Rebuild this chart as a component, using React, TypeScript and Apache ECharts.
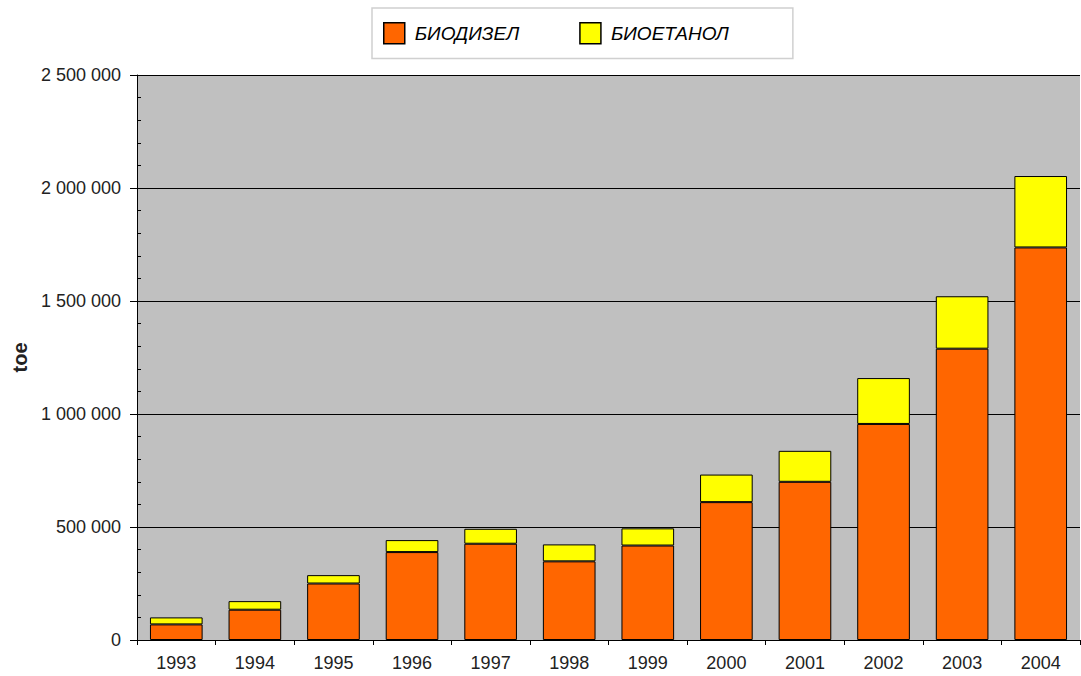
import React, { useEffect, useRef } from "react";
import * as echarts from "echarts";

const years = ["1993", "1994", "1995", "1996", "1997", "1998", "1999", "2000", "2001", "2002", "2003", "2004"];
const biodiesel = [69000, 134000, 250000, 389000, 426000, 348000, 418000, 610000, 700000, 956000, 1289000, 1737000];
const bioethanol = [31000, 38000, 37000, 53000, 66000, 75000, 76000, 122000, 137000, 203000, 232000, 316000];
const seriesNames = ["БИОДИЗЕЛ", "БИОЕТАНОЛ"];
const yAxisName = "toe";

const fmt = (v: number) => String(v).replace(/\B(?=(\d{3})+(?!\d))/g, " ");

export default function App() {
  const ref = useRef<HTMLDivElement>(null);
  useEffect(() => {
    document.body.style.margin = "0";
    const chart = echarts.init(ref.current!, null, { renderer: "svg" });
    const font = "Liberation Sans, Arial, sans-serif";
    chart.setOption({
      animation: false,
      backgroundColor: "#ffffff",
      textStyle: { fontFamily: font },
      legend: {
        left: 372,
        top: 8,
        orient: "horizontal",
        icon: "rect",
        itemWidth: 21,
        itemHeight: 21,
        itemGap: 60,
        padding: [14, 64, 14, 11],
        backgroundColor: "#ffffff",
        borderColor: "#d0d0d0",
        borderWidth: 1.5,
        itemStyle: { borderColor: "#000", borderWidth: 1.5 },
        textStyle: { fontSize: 19, fontStyle: "italic", color: "#000", fontFamily: font, padding: [0, 0, 0, 5] },
        data: seriesNames,
      },
      grid: {
        left: 137,
        right: 1,
        top: 75,
        bottom: 36,
        show: true,
        backgroundColor: "#c0c0c0",
        borderWidth: 0,
      },
      xAxis: {
        type: "category",
        data: years,
        axisLine: { lineStyle: { color: "#000", width: 1 } },
        axisTick: { show: true, length: 5, lineStyle: { color: "#000" } },
        axisLabel: { fontSize: 18, color: "#222", margin: 14, fontFamily: font },
      },
      yAxis: [
        {
          type: "value",
          min: 0,
          max: 2500000,
          interval: 500000,
          name: yAxisName,
          nameLocation: "middle",
          nameGap: 106,
          nameTextStyle: { fontSize: 20, fontWeight: "bold", color: "#222", fontFamily: font },
          axisLine: { show: true, lineStyle: { color: "#000", width: 1 } },
          axisTick: { show: true, length: 7, lineStyle: { color: "#000" } },
          axisLabel: { fontSize: 18, color: "#222", margin: 16, formatter: fmt, fontFamily: font },
          splitLine: { show: true, lineStyle: { color: "#000", width: 1 } },
        },
        {
          type: "value",
          position: "left",
          min: 0,
          max: 2500000,
          interval: 100000,
          axisLine: { show: false },
          axisTick: { show: true, inside: true, length: 4, lineStyle: { color: "#000" } },
          axisLabel: { show: false },
          splitLine: { show: false },
        },
      ],
      series: [
        {
          name: seriesNames[0],
          type: "bar",
          stack: "total",
          data: biodiesel,
          barWidth: "67%",
          itemStyle: { color: "#ff6600", borderColor: "#000", borderWidth: 1 },
        },
        {
          name: seriesNames[1],
          type: "bar",
          stack: "total",
          data: bioethanol,
          barWidth: "67%",
          itemStyle: { color: "#ffff00", borderColor: "#000", borderWidth: 1 },
        },
      ],
    });
    return () => chart.dispose();
  }, []);
  return <div ref={ref} style={{ width: 1081, height: 676 }} />;
}
